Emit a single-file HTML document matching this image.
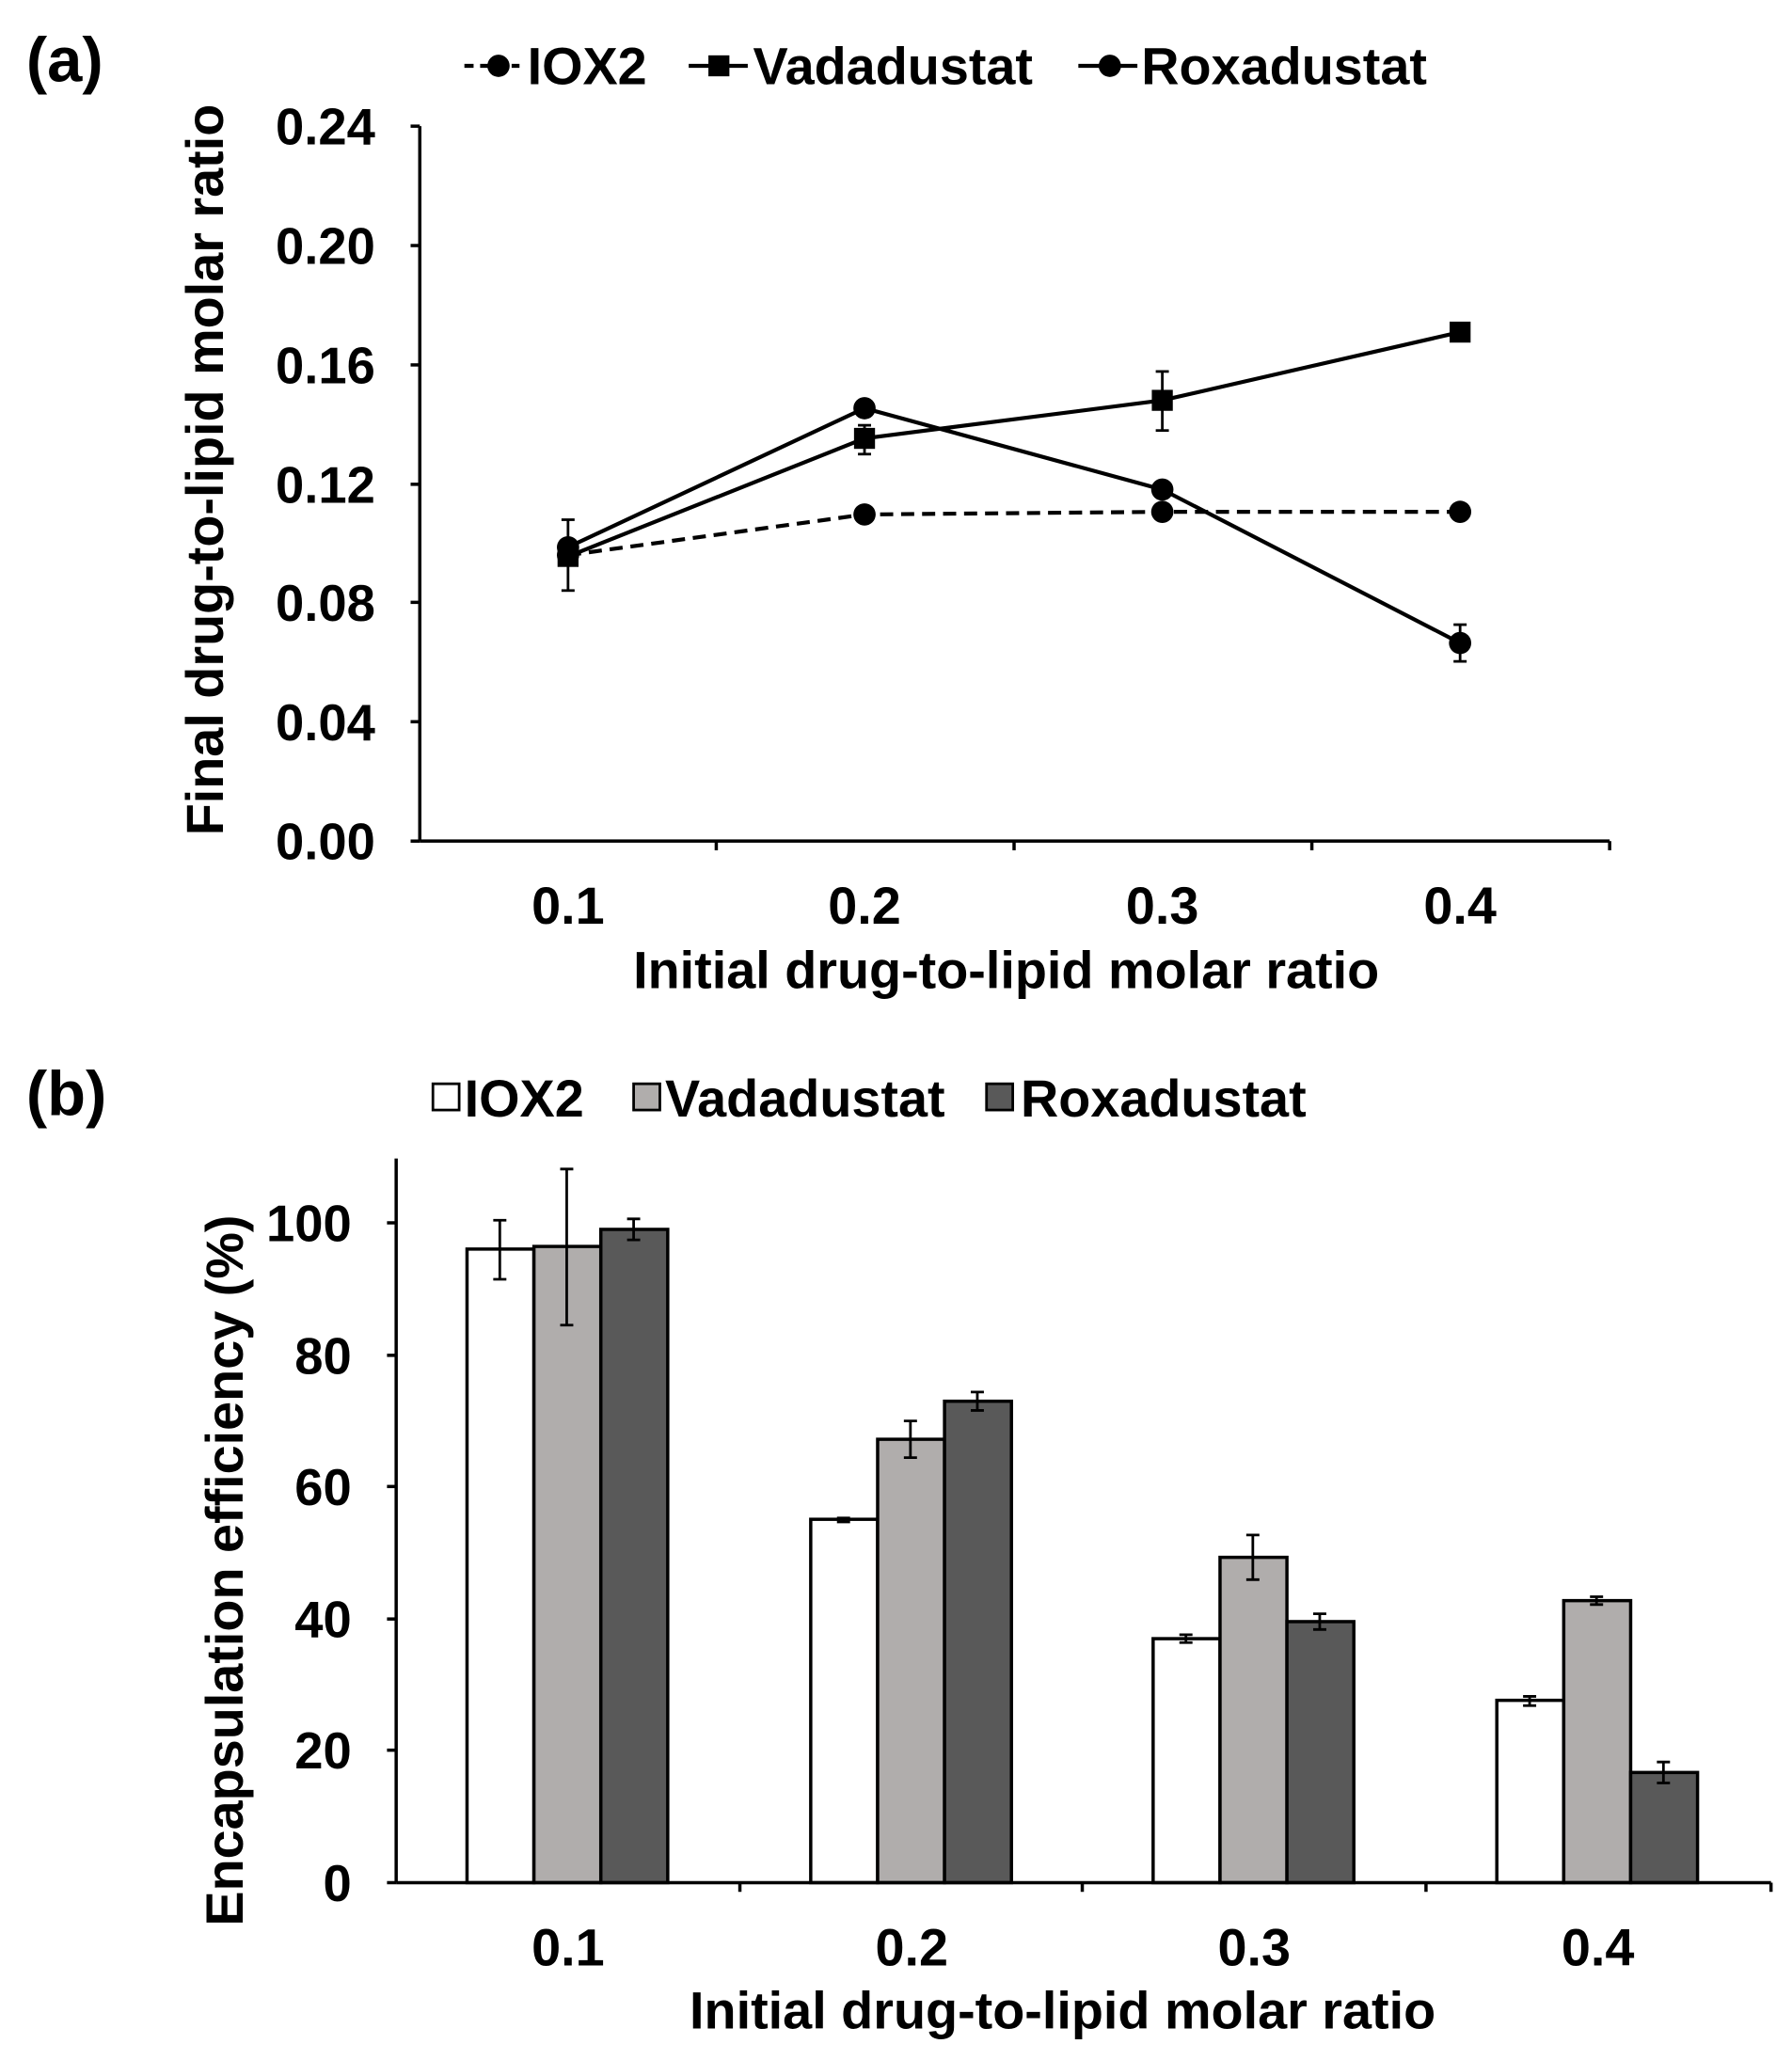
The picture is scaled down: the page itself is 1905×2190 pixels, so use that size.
<!DOCTYPE html>
<html><head><meta charset="utf-8"><style>html,body{margin:0;padding:0;background:#fff}svg{display:block}</style></head>
<body>
<svg width="1905" height="2190" viewBox="0 0 1366 1570" xmlns="http://www.w3.org/2000/svg" font-family="Liberation Sans, Arial, sans-serif" font-weight="bold" fill="#000">
<!-- Panel a -->
<text x="20" y="62" font-size="48">(a)</text>
<g font-size="40">
<line x1="354" y1="50" x2="396" y2="50" stroke="#000" stroke-width="3" stroke-dasharray="7,5"/><circle cx="380" cy="50" r="8.5"/>
<text x="402" y="64">IOX2</text>
<line x1="525" y1="50" x2="570" y2="50" stroke="#000" stroke-width="3"/><rect x="540" y="42" width="16" height="16"/>
<text x="574" y="64">Vadadustat</text>
<line x1="822" y1="50" x2="867" y2="50" stroke="#000" stroke-width="3"/><circle cx="846" cy="50" r="8.5"/>
<text x="870" y="64">Roxadustat</text>
</g>
<g stroke="#000" stroke-width="2.5">
<line x1="320" y1="96" x2="320" y2="641"/><line x1="320" y1="641" x2="1227" y2="641"/>
<line x1="313" y1="96" x2="320" y2="96"/><line x1="313" y1="187" x2="320" y2="187"/><line x1="313" y1="278" x2="320" y2="278"/><line x1="313" y1="369" x2="320" y2="369"/><line x1="313" y1="459" x2="320" y2="459"/><line x1="313" y1="550" x2="320" y2="550"/><line x1="313" y1="641" x2="320" y2="641"/>
<line x1="546" y1="641" x2="546" y2="648"/><line x1="773" y1="641" x2="773" y2="648"/><line x1="1000" y1="641" x2="1000" y2="648"/><line x1="1227" y1="641" x2="1227" y2="648"/>
</g>
<g font-size="39" text-anchor="end">
<text x="286" y="110">0.24</text><text x="286" y="201">0.20</text><text x="286" y="292">0.16</text><text x="286" y="383">0.12</text><text x="286" y="473">0.08</text><text x="286" y="564">0.04</text><text x="286" y="655">0.00</text>
</g>
<g font-size="40" text-anchor="middle">
<text x="433" y="704">0.1</text><text x="659" y="704">0.2</text><text x="886" y="704">0.3</text><text x="1113" y="704">0.4</text>
<text x="767" y="753">Initial drug-to-lipid molar ratio</text>
<text transform="translate(170,358) rotate(-90)">Final drug-to-lipid molar ratio</text>
</g>
<g stroke="#000" stroke-width="3" fill="none">
<polyline points="433,423 659,392 886,390 1113,390" stroke-dasharray="10,6"/>
<polyline points="433,424 659,334 886,305 1113,253"/>
<polyline points="433,417 659,311 886,373 1113,490"/>
</g>
<g stroke="#000" stroke-width="2">
<line x1="433" y1="396" x2="433" y2="450"/><line x1="428" y1="396" x2="438" y2="396"/><line x1="428" y1="450" x2="438" y2="450"/>
<line x1="886" y1="283" x2="886" y2="328"/><line x1="881" y1="283" x2="891" y2="283"/><line x1="881" y1="328" x2="891" y2="328"/>
<line x1="659" y1="324" x2="659" y2="346"/><line x1="654" y1="324" x2="664" y2="324"/><line x1="654" y1="346" x2="664" y2="346"/>
<line x1="1113" y1="476" x2="1113" y2="504"/><line x1="1108" y1="476" x2="1118" y2="476"/><line x1="1108" y1="504" x2="1118" y2="504"/>
</g>
<circle cx="433" cy="423" r="8.5"/><circle cx="659" cy="392" r="8.5"/><circle cx="886" cy="390" r="8.5"/><circle cx="1113" cy="390" r="8.5"/>
<rect x="425" y="416" width="16" height="16"/><rect x="651" y="326" width="16" height="16"/><rect x="878" y="297" width="16" height="16"/><rect x="1105" y="245" width="16" height="16"/>
<circle cx="433" cy="417" r="8.5"/><circle cx="659" cy="311" r="8.5"/><circle cx="886" cy="373" r="8.5"/><circle cx="1113" cy="490" r="8.5"/>

<!-- Panel b -->
<text x="20" y="850" font-size="48">(b)</text>
<g font-size="40">
<rect x="330" y="826" width="20" height="20" fill="#fff" stroke="#000" stroke-width="2"/><text x="354" y="851">IOX2</text>
<rect x="483" y="826" width="20" height="20" fill="#b0adac" stroke="#000" stroke-width="2"/><text x="507" y="851">Vadadustat</text>
<rect x="752" y="826" width="20" height="20" fill="#595959" stroke="#000" stroke-width="2"/><text x="778" y="851">Roxadustat</text>
</g>
<g stroke="#000" stroke-width="2.5">
<rect x="356" y="952" width="51" height="483" fill="#fff"/><rect x="407" y="950" width="51" height="485" fill="#b0adac"/><rect x="458" y="937" width="51" height="498" fill="#595959"/>
<rect x="618" y="1158" width="51" height="277" fill="#fff"/><rect x="669" y="1097" width="51" height="338" fill="#b0adac"/><rect x="720" y="1068" width="51" height="367" fill="#595959"/>
<rect x="879" y="1249" width="51" height="186" fill="#fff"/><rect x="930" y="1187" width="51" height="248" fill="#b0adac"/><rect x="981" y="1236" width="51" height="199" fill="#595959"/>
<rect x="1141" y="1296" width="51" height="139" fill="#fff"/><rect x="1192" y="1220" width="51" height="215" fill="#b0adac"/><rect x="1243" y="1351" width="51" height="84" fill="#595959"/>
</g>
<g stroke="#000" stroke-width="2">
<path d="M381 930V975M376 930H386M376 975H386"/>
<path d="M432 891V1010M427 891H437M427 1010H437"/>
<path d="M483 929V945M478 929H488M478 945H488"/>
<path d="M643 1157V1160M638 1157H648M638 1160H648"/>
<path d="M694 1083V1111M689 1083H699M689 1111H699"/>
<path d="M745 1061V1075M740 1061H750M740 1075H750"/>
<path d="M904 1246V1252M899 1246H909M899 1252H909"/>
<path d="M955 1170V1204M950 1170H960M950 1204H960"/>
<path d="M1006 1230V1242M1001 1230H1011M1001 1242H1011"/>
<path d="M1166 1293V1300M1161 1293H1171M1161 1300H1171"/>
<path d="M1217 1217V1223M1212 1217H1222M1212 1223H1222"/>
<path d="M1268 1343V1359M1263 1343H1273M1263 1359H1273"/>
</g>
<g stroke="#000" stroke-width="2.5">
<line x1="302" y1="883" x2="302" y2="1435"/><line x1="302" y1="1435" x2="1350" y2="1435"/>
<line x1="295" y1="932" x2="302" y2="932"/><line x1="295" y1="1033" x2="302" y2="1033"/><line x1="295" y1="1133" x2="302" y2="1133"/><line x1="295" y1="1234" x2="302" y2="1234"/><line x1="295" y1="1334" x2="302" y2="1334"/><line x1="295" y1="1435" x2="302" y2="1435"/>
<line x1="564" y1="1435" x2="564" y2="1442"/><line x1="825" y1="1435" x2="825" y2="1442"/><line x1="1087" y1="1435" x2="1087" y2="1442"/><line x1="1350" y1="1435" x2="1350" y2="1442"/>
</g>
<g font-size="39" text-anchor="end">
<text x="268" y="946">100</text><text x="268" y="1047">80</text><text x="268" y="1147">60</text><text x="268" y="1248">40</text><text x="268" y="1348">20</text><text x="268" y="1449">0</text>
</g>
<g font-size="40" text-anchor="middle">
<text x="433" y="1498">0.1</text><text x="695" y="1498">0.2</text><text x="956" y="1498">0.3</text><text x="1218" y="1498">0.4</text>
<text x="810" y="1546">Initial drug-to-lipid molar ratio</text>
<text transform="translate(185,1197) rotate(-90)">Encapsulation efficiency (%)</text>
</g>
</svg>
</body></html>
